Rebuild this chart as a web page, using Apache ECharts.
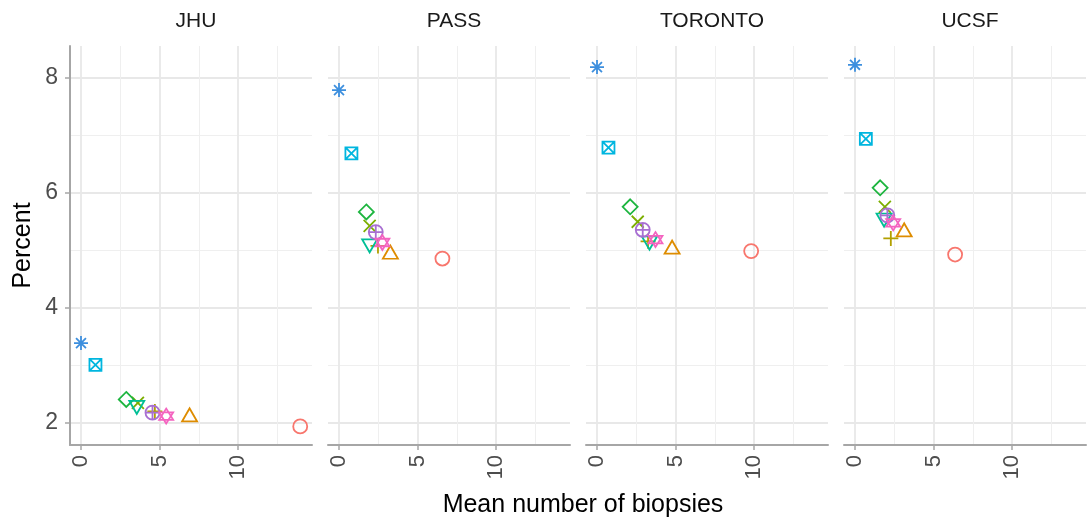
<!DOCTYPE html>
<html>
<head>
<meta charset="utf-8">
<script src="https://cdn.jsdelivr.net/npm/echarts@6/dist/echarts.min.js"></script>
<style>
html,body{margin:0;padding:0;background:#fff;}
#chart{width:1087px;height:521px;}
</style>
</head>
<body>
<div id="chart"></div>
<script>
// Cohorts (facets)
const cohorts = ['JHU', 'PASS', 'TORONTO', 'UCSF'];
// Schedules (series), in the same order as the value arrays below
const schedules = ['Schedule 1', 'Schedule 2', 'Schedule 3', 'Schedule 4', 'Schedule 5',
                   'Schedule 6', 'Schedule 7', 'Schedule 8', 'Schedule 9', 'Schedule 10'];
// Mean number of biopsies (x) and percent (y), per cohort, ordered as schedules
const jhuX     = [13.95, 6.91, 4.70, 3.62, 2.88, 3.55, 0.92, 0.00, 4.55, 5.42];
const jhuY     = [1.94, 2.14, 2.20, 2.35, 2.41, 2.27, 3.01, 3.39, 2.18, 2.12];
const passX    = [6.58, 3.27, 2.48, 1.95, 1.74, 1.95, 0.79, 0.00, 2.34, 2.76];
const passY    = [4.86, 4.97, 5.08, 5.43, 5.67, 5.08, 6.69, 7.79, 5.32, 5.14];
const torontoX = [9.81, 4.78, 3.25, 2.59, 2.11, 3.34, 0.73, 0.00, 2.91, 3.72];
const torontoY = [4.99, 5.06, 5.16, 5.50, 5.76, 5.13, 6.79, 8.19, 5.36, 5.19];
const ucsfX    = [6.37, 3.13, 2.28, 1.90, 1.60, 1.85, 0.69, 0.00, 2.06, 2.43];
const ucsfY    = [4.93, 5.36, 5.21, 5.76, 6.09, 5.53, 6.94, 8.23, 5.61, 5.48];
// Axis ticks
const xMajorTicks = [0, 5, 10];
const xMinorTicks = [2.5, 7.5, 12.5];
const yMajorTicks = [2, 4, 6, 8];
const yMinorTicks = [3, 5, 7];

const cohortX = [jhuX, passX, torontoX, ucsfX];
const cohortY = [jhuY, passY, torontoY, ucsfY];

const colors = ['#F8766D', '#DE8C00', '#B2A000', '#7CAE00', '#1DB53F', '#00BF96', '#00B6DF', '#3D8FDE', '#A86FD2', '#F464C0'];
const symbols = [
  'circle',
  'path://M50,0 L100,86.6 L0,86.6 Z',
  'path://M50,0 L50,100 M0,50 L100,50',
  'path://M0,0 L100,100 M100,0 L0,100',
  'path://M50,0 L100,50 L50,100 L0,50 Z',
  'path://M0,0 L100,0 L50,86.6 Z',
  'path://M0,0 L100,0 L100,100 L0,100 Z M0,0 L100,100 M100,0 L0,100',
  'path://M50,0 L50,100 M0,50 L100,50 M14.6,14.6 L85.4,85.4 M85.4,14.6 L14.6,85.4',
  'path://M100,50 A50,50 0 1,1 0,50 A50,50 0 1,1 100,50 Z M50,0 L50,100 M0,50 L100,50',
  'path://M50,0 L93.3,75 L6.7,75 Z M6.7,25 L93.3,25 L50,100 Z'
];
const sizes = [[14,14],[15,13],[15,15],[12,12],[15,15],[15,13],[12,12],[14,14],[14,14],[14,15]];

const FONT = 'Liberation Sans, Arial, Helvetica, sans-serif';
const gridLeft = [70, 328, 586, 844];
const gridW = 242;
const X_MIN = -0.7, X_MAX = 14.7, Y_MIN = 1.617, Y_MAX = 8.557;

const grids = [], xAxes = [], yAxes = [], series = [], titles = [];
cohorts.forEach((c, i) => {
  grids.push({ left: gridLeft[i], width: gridW, top: 46, height: 399, containLabel: false });
  titles.push({ text: c, left: gridLeft[i] + gridW / 2, textAlign: 'center', top: 6,
    textStyle: { fontFamily: FONT, fontSize: 21, fontWeight: 'normal', color: '#1a1a1a' } });
  // main x axis
  xAxes.push({ type: 'value', gridIndex: i, min: X_MIN, max: X_MAX, position: 'bottom',
    axisLine: { show: true, onZero: false, lineStyle: { color: '#a6a6a6', width: 2 } },
    axisTick: { show: true, customValues: xMajorTicks, length: 5, lineStyle: { color: '#a6a6a6', width: 1.5 } },
    axisLabel: { show: true, customValues: xMajorTicks, rotate: 90, margin: 10, color: '#4d4d4d', fontSize: 22, fontFamily: FONT },
    splitLine: { show: true, lineStyle: { color: '#e8e8e8', width: 1.8 } } });
  // minor x gridlines
  xAxes.push({ type: 'value', gridIndex: i, min: X_MIN, max: X_MAX, position: 'bottom',
    axisLine: { show: false }, axisLabel: { show: false },
    axisTick: { show: false, customValues: xMinorTicks },
    splitLine: { show: true, lineStyle: { color: '#efefef', width: 1 } } });
  // main y axis
  yAxes.push({ type: 'value', gridIndex: i, min: Y_MIN, max: Y_MAX, position: 'left',
    name: i === 0 ? 'Percent' : '', nameLocation: 'middle', nameGap: 34,
    nameTextStyle: { fontFamily: FONT, fontSize: 25, color: '#000' },
    axisLine: { show: i === 0, onZero: false, lineStyle: { color: '#a6a6a6', width: 2 } },
    axisTick: { show: i === 0, customValues: yMajorTicks, length: 5, lineStyle: { color: '#a6a6a6', width: 1.5 } },
    axisLabel: { show: i === 0, customValues: yMajorTicks, margin: 12, color: '#4d4d4d', fontSize: 23, fontFamily: FONT },
    splitLine: { show: true, lineStyle: { color: '#e8e8e8', width: 1.8 } } });
  // minor y gridlines
  yAxes.push({ type: 'value', gridIndex: i, min: Y_MIN, max: Y_MAX, position: 'left',
    axisLine: { show: false }, axisLabel: { show: false },
    axisTick: { show: false, customValues: yMinorTicks },
    splitLine: { show: true, lineStyle: { color: '#efefef', width: 1 } } });

  schedules.forEach((s, k) => {
    series.push({
      name: s, type: 'scatter', xAxisIndex: 2 * i, yAxisIndex: 2 * i,
      symbol: symbols[k], symbolSize: sizes[k],
      itemStyle: { color: 'rgba(0,0,0,0)', borderColor: colors[k], borderWidth: 1.8, opacity: 1 },
      emphasis: { disabled: true },
      data: [[cohortX[i][k], cohortY[i][k]]],
      z: 3 + k
    });
  });
});

titles.push({ text: 'Mean number of biopsies', left: 578, textAlign: 'center', top: 488,
  textStyle: { fontFamily: FONT, fontSize: 25, fontWeight: 'normal', color: '#000' } });

const chart = echarts.init(document.getElementById('chart'), null, { renderer: 'canvas' });
chart.setOption({
  backgroundColor: '#fff',
  animation: false,
  title: titles,
  grid: grids,
  xAxis: xAxes,
  yAxis: yAxes,
  series: series
});
</script>
</body>
</html>
